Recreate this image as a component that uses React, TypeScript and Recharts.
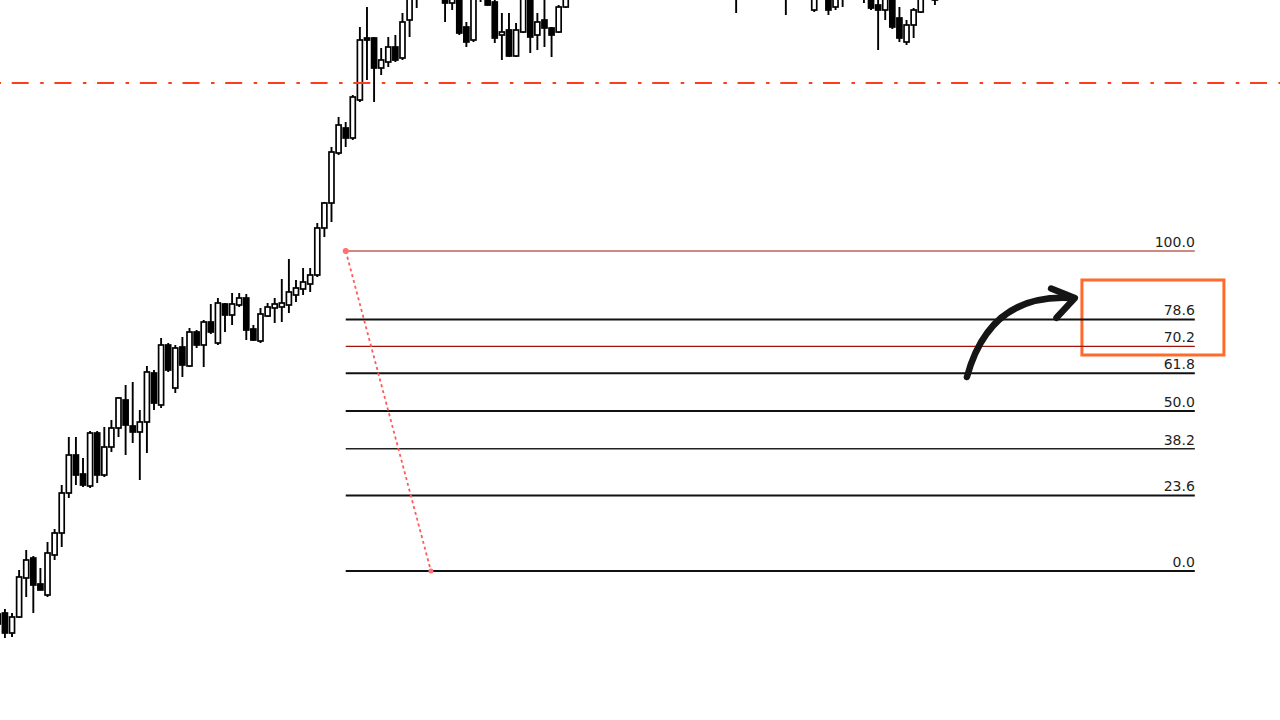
import { ComposedChart, Bar, XAxis, YAxis, ReferenceLine, ReferenceArea, ReferenceDot } from "recharts"

// candle index of the first entry (the one cut by the left edge)
const FIRST_INDEX = -1

const OPEN = [
    1953, 1953.5, 1943.5, 1951.5, 1971, 1981, 1968, 1962.5, 1982.5, 1993.5,
    2013.5, 2032.5, 2023, 2017, 2043.5, 2022.5, 2036.5, 2046, 2060, 2047,
    2044, 2049, 2073.5, 2057.5, 2087.5, 2066, 2086.5, 2077, 2094, 2087.5,
    2099, 2088.5, 2108, 2102.5, 2107.5, 2111, 2095.5, 2089.5, 2102, 2106,
    2106.5, 2107.5, 2112.5, 2115.5, 2118, 2122.5, 2146, 2158.5, 2183.5, 2196,
    2191, 2210, 2241, 2241, 2226, 2229, 2236.5, 2231, 2250, 2275,
    2272.5, 2290, 2285, 2270, 2258.5, 2262.5, 2246.5, 2240, 2270, 2265,
    2259, 2242.5, 2245, 2232, 2244, 2262.5, 2242.5, 2250, 2246, 2244,
    2256.5, 2265, 2270, 2279, 2273, 2287, 2284, 2290, 2301, 2295,
    2288, 2293, 2298, 2286, 2279, 2285, 2290, 2281, 2274, 2279,
    2285, 2280, 2272, 2276, 2269, 2266, 2275, 2281, 2275, 2270,
    2277, 2267, 2264, 2271, 2266, 2255, 2264, 2262.5, 2256.5, 2267.5,
    2262.5, 2268, 2264, 2265, 2257.5, 2255, 2262.5, 2251, 2239, 2247.5,
    2254, 2261.5, 2260,
]

const HIGH = [
    1954.5, 1955.5, 1953.5, 1975, 1985, 1982, 1976, 1989, 1995.5, 2017.5,
    2041.5, 2041.5, 2031, 2044.5, 2044.5, 2046.5, 2050, 2061.5, 2067.5, 2069,
    2055, 2077, 2075, 2091, 2088.5, 2087.5, 2091.5, 2096, 2095, 2100,
    2108, 2111, 2108.5, 2113.5, 2113.5, 2113, 2097.5, 2106, 2108.5, 2111,
    2120.5, 2130.5, 2120, 2126, 2126, 2148.5, 2159, 2186.5, 2201.5, 2199,
    2212.5, 2246.5, 2256.5, 2241.5, 2236, 2241.5, 2242.5, 2253.5, 2265, 2280,
    2295, 2300, 2295, 2280, 2272.5, 2270, 2249, 2265, 2275, 2270,
    2262.5, 2253.5, 2253.5, 2248.5, 2265, 2265, 2253.5, 2260, 2246.5, 2257.5,
    2267.5, 2274, 2282, 2285, 2290, 2296, 2292, 2305, 2308, 2299,
    2297, 2302, 2300, 2291, 2288, 2294, 2293, 2286, 2282, 2288,
    2290, 2284, 2279, 2281, 2275, 2278, 2284, 2286, 2280, 2279,
    2280, 2272, 2274, 2276, 2270, 2267.5, 2272, 2267.5, 2270, 2272.5,
    2270, 2273, 2270, 2267.5, 2262.5, 2265, 2265, 2256.5, 2250, 2256,
    2262.5, 2270, 2272.5,
]

const LOW = [
    1946, 1941, 1941.5, 1951, 1961.5, 1953.5, 1965, 1961.5, 1980, 1986.5,
    2011, 2017.5, 2016.5, 2016, 2018.5, 2021.5, 2034, 2041.5, 2032.5, 2038.5,
    2020, 2033.5, 2055, 2056, 2074, 2063.5, 2071.5, 2076.5, 2086, 2076.5,
    2093, 2087.5, 2094, 2097.5, 2106.5, 2090, 2089.5, 2088.5, 2101.5, 2098.5,
    2099, 2103.5, 2109, 2112.5, 2114, 2121.5, 2141.5, 2149, 2182.5, 2186.5,
    2190, 2209, 2220, 2209, 2222.5, 2226.5, 2229, 2230, 2241.5, 2256,
    2270, 2275, 2265, 2249, 2255, 2242.5, 2236.5, 2239, 2259, 2257,
    2238.5, 2230, 2231.5, 2231.5, 2243.5, 2233.5, 2235, 2236.5, 2231.5, 2243.5,
    2256, 2261, 2266, 2270, 2271, 2280, 2276, 2287, 2292, 2284,
    2282, 2289, 2283, 2275, 2274, 2281, 2278, 2270, 2268, 2276,
    2277, 2269, 2265, 2266, 2253.5, 2263, 2270, 2272, 2266, 2265,
    2264, 2252.5, 2262, 2263, 2261, 2254, 2261, 2252.5, 2255, 2256.5,
    2261, 2262, 2258.5, 2255, 2235, 2250, 2245.5, 2239, 2237.5, 2241,
    2253.5, 2261, 2257.5,
]

const CLOSE = [
    1948, 1943.5, 1951.5, 1971.5, 1980, 1967.5, 1965, 1983.5, 1993.5, 2013.5,
    2032.5, 2022.5, 2017.5, 2043.5, 2022.5, 2036.5, 2046, 2061, 2047.5, 2044,
    2049, 2074, 2058.5, 2087.5, 2075, 2086, 2077.5, 2094, 2087.5, 2099,
    2094, 2108.5, 2102.5, 2108, 2111, 2095, 2090, 2103, 2106.5, 2108,
    2108.5, 2114, 2116, 2119, 2122.5, 2146, 2158.5, 2184, 2197.5, 2191,
    2211.5, 2240, 2240, 2226, 2230, 2236.5, 2230, 2249, 2262.5, 2265,
    2287.5, 2280, 2270, 2258.5, 2265, 2243.5, 2239, 2262.5, 2262.5, 2257.5,
    2241, 2244, 2232, 2245, 2262.5, 2241.5, 2249, 2246, 2242.5, 2256.5,
    2265, 2270, 2279, 2273, 2287, 2284, 2290, 2301, 2295, 2288,
    2293, 2298, 2286, 2279, 2285, 2290, 2281, 2274, 2279, 2285,
    2280, 2272, 2276, 2269, 2266, 2275, 2281, 2275, 2270, 2277,
    2267, 2264, 2271, 2266, 2263, 2264, 2269, 2255, 2265, 2262.5,
    2268, 2264, 2262, 2256, 2255, 2262.5, 2246.5, 2241, 2247.5, 2255,
    2261.5, 2267.5, 2270,
]

// fibonacci retracement tool
const FIB_HIGH = 2134.5
const FIB_LOW = 1974.5
const FIB_LEVELS = [100, 78.6, 70.2, 61.8, 50, 38.2, 23.6, 0]
const FIB_START = 48
const FIB_END = 167.6
const FIB_DIAG_END = 60

const RESISTANCE = 2218.5

const BOX_X = [151.7, 171.7]
const BOX_Y = [2082.5, 2120]
const ARROW_FROM = { x: 135.5, y: 2071.5 }
const ARROW_TO = { x: 150.7, y: 2111 }

const X_DOMAIN = [-0.7, 179.6]
const Y_DOMAIN = [1900, 2260]

const LEVEL_STYLE: Record<string, { stroke: string; width: number }> = {
    "100.0": { stroke: "#a0140c", width: 1.2 },
    "78.6": { stroke: "#111", width: 2 },
    "70.2": { stroke: "#a0140c", width: 1.2 },
    "61.8": { stroke: "#111", width: 2 },
    "50.0": { stroke: "#111", width: 2 },
    "38.2": { stroke: "#222", width: 1.3 },
    "23.6": { stroke: "#111", width: 2 },
    "0.0": { stroke: "#111", width: 2 },
}

const candles = OPEN.map((open, k) => ({
    i: FIRST_INDEX + k,
    open,
    high: HIGH[k],
    low: LOW[k],
    close: CLOSE[k],
}))

const Candle = (props: any) => {
    const { x, y, width, height, payload } = props
    if (!payload || x == null || y == null) return null
    const { open, high, low, close } = payload
    const cx = x + width / 2
    const k = high > low ? height / (high - low) : 0
    const py = (v: number) => y + (high - v) * k
    const top = py(Math.max(open, close))
    const bottom = py(Math.min(open, close))
    const up = close >= open
    const bw = 5
    return (
        <g>
            <line x1={cx} x2={cx} y1={y} y2={y + height} stroke="#000" strokeWidth={1.9} />
            <rect
                x={cx - bw / 2}
                y={top}
                width={bw}
                height={Math.max(bottom - top, 1.4)}
                fill={up ? "#fff" : "#000"}
                stroke="#000"
                strokeWidth={1.7}
            />
        </g>
    )
}

const FibLabel = (props: any) => {
    const vb = props.viewBox
    if (!vb) return null
    return (
        <text
            x={vb.x + vb.width}
            y={vb.y - 4}
            textAnchor="end"
            fontSize={14}
            fontFamily="DejaVu Sans"
            fill="#1e1e1e"
        >
            {props.text}
        </text>
    )
}

const CurvedArrow = (props: any) => {
    const { x1, y1, x2, y2 } = props
    if (x1 == null) return null
    const dx = x2 - x1
    const dy = y1 - y2
    const qx = x1 + dx * 0.21
    const qy = y2 - dy * 0.05
    return (
        <g fill="none" stroke="#151515" strokeWidth={6.5} strokeLinecap="round" strokeLinejoin="round">
            <path d={`M${x1},${y1} Q${qx},${qy} ${x2 - dx * 0.05},${y2}`} />
            <path
                d={`M${x2 - dx * 0.22},${y2 - dy * 0.12} L${x2},${y2} L${x2 - dx * 0.17},${y2 + dy * 0.25}`}
            />
        </g>
    )
}

export default function App() {
    const range = FIB_HIGH - FIB_LOW
    return (
        <div style={{ position: "absolute", left: 0, top: 0, width: 1280, height: 720, background: "#fff" }}>
            <ComposedChart width={1280} height={720} data={candles} margin={{ top: 0, right: 0, bottom: 0, left: 0 }}>
                <XAxis dataKey="i" type="number" domain={X_DOMAIN} allowDataOverflow hide />
                <YAxis type="number" domain={Y_DOMAIN} allowDataOverflow hide />
                <ReferenceLine
                    y={RESISTANCE}
                    stroke="#ff3d1e"
                    strokeWidth={2}
                    strokeDasharray="17 11.5 3.5 10.7"
                    strokeDashoffset={31}
                />
                <Bar
                    dataKey={(d: any) => [d.low, d.high]}
                    barSize={5}
                    shape={(p: any) => <Candle {...p} />}
                    isAnimationActive={false}
                />
                {FIB_LEVELS.map((lvl) => {
                    const txt = lvl.toFixed(1)
                    const st = LEVEL_STYLE[txt]
                    const price = FIB_LOW + (lvl / 100) * range
                    return (
                        <ReferenceLine
                            key={txt}
                            segment={[{ x: FIB_START, y: price }, { x: FIB_END, y: price }]}
                            stroke={st.stroke}
                            strokeWidth={st.width}
                            label={<FibLabel text={txt} />}
                        />
                    )
                })}
                <ReferenceLine
                    segment={[{ x: FIB_START, y: FIB_HIGH }, { x: FIB_DIAG_END, y: FIB_LOW }]}
                    stroke="#ff5a5a"
                    strokeWidth={1.8}
                    strokeDasharray="3 3"
                />
                <ReferenceDot x={FIB_START} y={FIB_HIGH} r={3} fill="#ff7070" stroke="none" />
                <ReferenceDot x={FIB_DIAG_END} y={FIB_LOW} r={2.5} fill="#ff7070" stroke="none" />
                <ReferenceArea
                    x1={BOX_X[0]}
                    x2={BOX_X[1]}
                    y1={BOX_Y[0]}
                    y2={BOX_Y[1]}
                    fill="none"
                    stroke="#ff6a2b"
                    strokeWidth={3}
                />
                <ReferenceLine segment={[ARROW_FROM, ARROW_TO]} shape={(p: any) => <CurvedArrow {...p} />} />
            </ComposedChart>
        </div>
    )
}
